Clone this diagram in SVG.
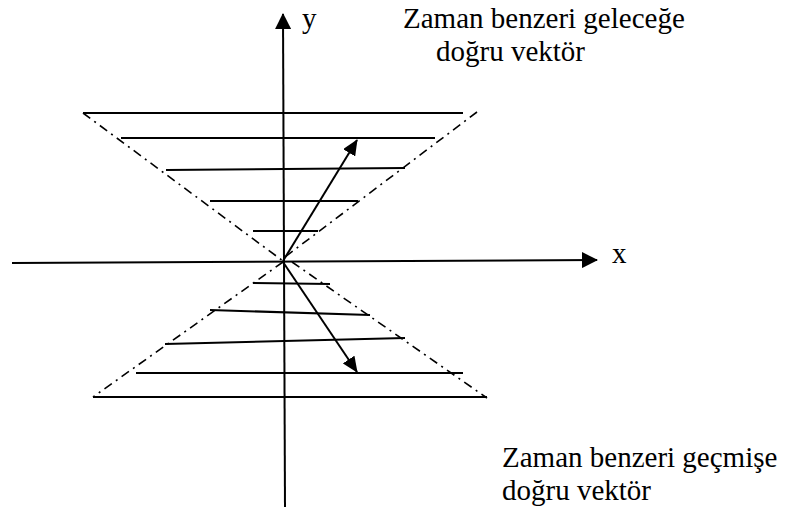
<svg xmlns="http://www.w3.org/2000/svg" width="787" height="514" viewBox="0 0 787 514">
<style>
.ln{stroke:#000;stroke-width:2;fill:none}
.dd{stroke:#000;stroke-width:1.6;fill:none;stroke-dasharray:9 5 2 5}
.t{font-family:"Liberation Serif","Times New Roman",serif;font-size:29px;fill:#000}
</style>
<defs>
<marker id="ah" markerUnits="userSpaceOnUse" markerWidth="16" markerHeight="16" viewBox="0 0 16 16" refX="15" refY="8" orient="auto">
<path d="M0,0 L16,8 L0,16 Z" fill="#000"/>
</marker>
<marker id="ah2" markerUnits="userSpaceOnUse" markerWidth="16" markerHeight="14" viewBox="0 0 16 14" refX="15" refY="7" orient="auto">
<path d="M0,0 L16,7 L0,14 Z" fill="#000"/>
</marker>
</defs>
<g id="axes">
<line class="ln" x1="285" y1="507" x2="283" y2="14" marker-end="url(#ah)"/>
<line class="ln" x1="12" y1="263" x2="597" y2="260" marker-end="url(#ah)"/>
</g>
<g id="future-cone">
<line class="dd" x1="83" y1="113" x2="283" y2="261"/>
<line class="dd" x1="477" y1="112" x2="285" y2="257"/>
<line class="ln" x1="83" y1="113" x2="463" y2="113"/>
<line class="ln" x1="121" y1="138" x2="435" y2="138"/>
<line class="ln" x1="166" y1="170" x2="405" y2="168"/>
<line class="ln" x1="210" y1="201" x2="358" y2="201"/>
<line class="ln" x1="253" y1="231" x2="318" y2="231"/>
</g>
<g id="past-cone">
<line class="dd" x1="283" y1="262" x2="93" y2="397"/>
<line class="dd" x1="292" y1="262" x2="487" y2="398"/>
<line class="ln" x1="253" y1="283" x2="330" y2="284"/>
<line class="ln" x1="210" y1="310" x2="370" y2="315"/>
<line class="ln" x1="165" y1="344" x2="405" y2="338"/>
<line class="ln" x1="136" y1="373" x2="463" y2="373"/>
<line class="ln" x1="93" y1="397" x2="487" y2="397"/>
</g>
<g id="connectors">
<line class="ln" x1="283" y1="261" x2="357" y2="140" marker-end="url(#ah2)"/>
<line class="ln" x1="283" y1="262" x2="357" y2="372" marker-end="url(#ah2)"/>
</g>
<g id="labels">
<text class="t" x="302" y="28">y</text>
<text class="t" x="612" y="263">x</text>
<text class="t" x="403" y="28">Zaman benzeri geleceğe</text>
<text class="t" x="436" y="61">doğru vektör</text>
<text class="t" x="502" y="467">Zaman benzeri geçmişe</text>
<text class="t" x="502" y="500">doğru vektör</text>
</g>
</svg>
